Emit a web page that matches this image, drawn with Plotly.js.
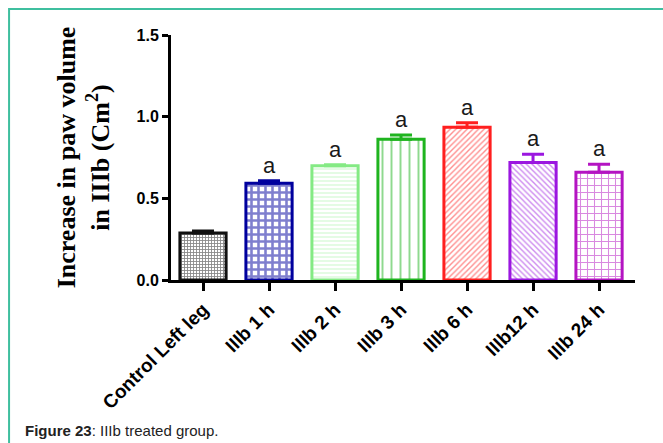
<!DOCTYPE html>
<html>
<head>
<meta charset="utf-8">
<script src="https://cdn.plot.ly/plotly-3.0.1.min.js"></script>
<style>
  html, body { margin: 0; padding: 0; background: #ffffff; }
  #chart { width: 663px; height: 443px; }
</style>
</head>
<body>
<div id="chart"></div>
<script>
// ---- data ----
var categories = ["Control Left leg", "IIIb 1 h", "IIIb 2 h", "IIIb 3 h", "IIIb 6 h", "IIIb12 h", "IIIb 24 h"];
var meanValues = [0.288, 0.592, 0.700, 0.861, 0.935, 0.720, 0.660];
var semValues  = [0.012, 0.016, 0.006, 0.027, 0.028, 0.050, 0.048];
var sigLabels  = ["", "a", "a", "a", "a", "a", "a"];
var yTickValues = [0, 0.5, 1.0, 1.5];

// ---- styles ----
var barColors   = ["#111111", "#00009e", "#84ea84", "#1fb41f", "#ff1f1f", "#9b17e0", "#b414c2"];
var barPatterns = ["+", "+", "-", "|", "/", "\\", "+"];
var patSizes    = [3, 7, 4, 9, 4, 4, 7];
var patSolid    = [0.5, 0.6, 0.22, 0.22, 0.35, 0.35, 0.28];

var traces = categories.map(function (cat, i) {
  return {
    type: "bar",
    x: [cat],
    y: [meanValues[i]],
    width: 0.7,
    marker: {
      color: "#ffffff",
      line: { color: barColors[i], width: 3 },
      pattern: {
        shape: barPatterns[i],
        fgcolor: barColors[i],
        bgcolor: "#ffffff",
        size: patSizes[i],
        solidity: patSolid[i],
        fillmode: "overlay"
      }
    },
    error_y: {
      type: "data",
      symmetric: false,
      array: [semValues[i]],
      arrayminus: [0],
      color: barColors[i],
      thickness: 3,
      width: 11
    },
    showlegend: false,
    hoverinfo: "x+y"
  };
});

var annotations = [];
categories.forEach(function (cat, i) {
  if (sigLabels[i]) {
    annotations.push({
      x: cat, y: meanValues[i] + semValues[i],
      xref: "x", yref: "y",
      text: sigLabels[i],
      showarrow: false,
      yanchor: "bottom",
      yshift: 1,
      font: { family: "Liberation Sans, Arial, sans-serif", size: 22, color: "#1a1a1a" }
    });
  }
});

// caption
annotations.push({
  xref: "paper", yref: "paper",
  x: -0.318, y: -0.616,
  xanchor: "left", yanchor: "middle",
  showarrow: false,
  text: "<b>Figure 23</b>: IIIb treated group.",
  font: { family: "Liberation Sans, Arial, sans-serif", size: 15, color: "#222222" }
});

var layout = {
  width: 663,
  height: 443,
  margin: { l: 171, r: 28, t: 35, b: 163, pad: 0 },
  paper_bgcolor: "#ffffff",
  plot_bgcolor: "#ffffff",
  barmode: "overlay",
  bargap: 0,
  xaxis: {
    type: "category",
    categoryorder: "array",
    categoryarray: categories,
    range: [-0.485, 6.545],
    showline: true,
    linecolor: "#000000",
    linewidth: 3,
    ticks: "outside",
    ticklen: 8,
    tickwidth: 3,
    tickcolor: "#000000",
    tickangle: -45,
    tickfont: { family: "Liberation Sans, Arial, sans-serif", size: 19, color: "#000000", weight: "bold" },
    showgrid: false,
    zeroline: false,
    fixedrange: true
  },
  yaxis: {
    range: [0, 1.5],
    tickvals: yTickValues,
    tickformat: ".1f",
    showline: true,
    linecolor: "#000000",
    linewidth: 3,
    ticks: "outside",
    ticklen: 6,
    tickwidth: 3,
    tickcolor: "#000000",
    tickfont: { family: "Liberation Sans, Arial, sans-serif", size: 16, color: "#000000", weight: "bold" },
    showgrid: false,
    zeroline: false,
    fixedrange: true,
    title: {
      text: "Increase in paw volume<br>in IIIb (Cm<sup>2</sup>)",
      font: { family: "Liberation Serif, 'Times New Roman', serif", size: 26, color: "#000000", weight: "bold" },
      standoff: 20
    }
  },
  shapes: [{
    type: "rect",
    xref: "paper", yref: "paper",
    x0: -0.349, x1: 1.2,
    y0: -0.75, y1: 1.106,
    line: { color: "#3fbf9f", width: 2 },
    fillcolor: "rgba(0,0,0,0)",
    layer: "below"
  }],
  annotations: annotations
};

Plotly.newPlot("chart", traces, layout, { displayModeBar: false, staticPlot: true });
</script>
</body>
</html>
